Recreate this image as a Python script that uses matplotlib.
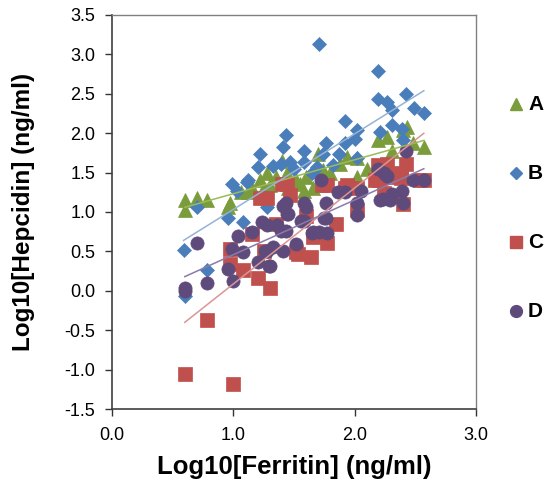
import numpy as np
import matplotlib
matplotlib.use("Agg")
import matplotlib.pyplot as plt

plt.rcParams['font.family'] = ['Liberation Sans', 'DejaVu Sans']

# Series A (green triangles)
a_x = [0.60, 0.60, 0.70, 0.78, 0.96, 0.97, 1.06, 1.12, 1.22, 1.28, 1.30, 1.40, 1.44, 1.52, 1.55,
       1.58, 1.66, 1.70, 1.74, 1.88, 1.94, 2.02, 2.02, 2.19, 2.27, 2.31, 2.40, 2.43, 2.48, 2.57,
       1.25, 1.45, 1.60, 1.80, 1.35, 1.15, 2.10]
a_y = [1.15, 1.02, 1.18, 1.15, 1.06, 1.11, 1.25, 1.25, 1.40, 1.49, 1.34, 1.65, 1.49, 1.40, 1.36,
       1.27, 1.31, 1.74, 1.53, 1.61, 1.70, 1.44, 1.68, 1.91, 1.95, 1.78, 2.04, 2.08, 1.87, 1.82,
       1.30, 1.30, 1.45, 1.50, 1.45, 1.30, 1.55]

# Series B (blue diamonds)
b_x = [0.59, 0.60, 0.70, 0.78, 0.96, 0.99, 1.03, 1.08, 1.11, 1.12, 1.20, 1.22, 1.28, 1.33, 1.39,
       1.41, 1.43, 1.47, 1.58, 1.58, 1.69, 1.71, 1.74, 1.76, 1.87, 1.92, 1.92, 2.00, 2.02, 2.02,
       2.19, 2.19, 2.21, 2.27, 2.31, 2.31, 2.39, 2.40, 2.42, 2.49, 2.57, 1.50, 1.65, 1.82]
b_y = [0.52, -0.06, 1.06, 0.26, 0.92, 1.36, 1.27, 0.87, 1.38, 1.40, 1.57, 1.73, 1.06, 1.59, 1.61,
       1.83, 1.98, 1.63, 1.78, 1.63, 1.57, 3.13, 1.74, 1.88, 1.73, 2.15, 1.88, 1.93, 2.04, 1.68,
       2.79, 2.44, 2.01, 2.39, 2.30, 2.10, 2.05, 1.91, 2.50, 2.32, 2.25, 1.55, 1.50, 1.60]

# Series C (red squares)
c_x = [0.60, 1.00, 0.78, 0.97, 0.97, 1.08, 1.15, 1.20, 1.22, 1.25, 1.28, 1.30, 1.40, 1.44, 1.47,
       1.52, 1.53, 1.64, 1.66, 1.73, 1.77, 1.77, 1.92, 1.94, 2.02, 2.02, 2.17, 2.19, 2.20, 2.24,
       2.24, 2.27, 2.31, 2.38, 2.38, 2.40, 2.42, 2.54, 2.57, 1.35, 1.60, 1.85]
c_y = [-1.05, -1.18, -0.37, 0.53, 0.34, 0.26, 0.72, 0.16, 1.18, 0.51, 1.18, 0.04, 1.36, 1.36, 1.21,
       0.49, 0.47, 0.43, 0.68, 1.34, 0.61, 1.34, 1.31, 1.34, 1.02, 1.30, 1.40, 1.60, 1.40, 1.24,
       1.56, 1.61, 1.44, 1.43, 1.49, 1.10, 1.61, 1.40, 1.40, 0.85, 0.95, 0.85]

# Series D (purple circles)
d_x = [0.60, 0.60, 0.70, 0.78, 0.96, 0.99, 1.00, 1.04, 1.08, 1.15, 1.20, 1.24, 1.26, 1.28, 1.28,
       1.29, 1.30, 1.33, 1.36, 1.39, 1.41, 1.41, 1.43, 1.43, 1.44, 1.45, 1.52, 1.56, 1.58, 1.58,
       1.60, 1.65, 1.66, 1.71, 1.72, 1.75, 1.76, 1.76, 1.77, 1.86, 1.92, 2.02, 2.02, 2.05, 2.19,
       2.21, 2.23, 2.24, 2.27, 2.29, 2.31, 2.39, 2.40, 2.42, 2.48, 2.57]
d_y = [0.00, 0.03, 0.61, 0.10, 0.28, 0.53, 0.12, 0.70, 0.49, 0.74, 0.36, 0.87, 0.51, 0.83, 0.51,
       0.32, 0.31, 0.55, 0.83, 0.76, 0.51, 1.08, 0.76, 1.11, 0.98, 0.98, 0.60, 0.89, 1.11, 0.89,
       1.06, 0.73, 0.74, 0.74, 1.41, 0.93, 1.12, 0.93, 0.73, 1.26, 1.25, 1.11, 0.96, 1.27, 1.54,
       1.15, 1.17, 1.49, 1.46, 1.15, 1.23, 1.27, 1.12, 1.78, 1.40, 1.40]

# Linear trendlines as shown in the chart
trend_x0 = [0.60, 0.59, 0.60, 0.60]
trend_x1 = [2.57, 2.57, 2.57, 2.57]
trend_slope = [0.431, 0.959, 1.218, 0.695]
trend_intercept = [0.801, 0.074, -1.131, -0.237]

labels = ['A', 'B', 'C', 'D']
colors = ['#7A9C3A', '#4A7EBB', '#C0504D', '#5F4A7C']
line_colors = ['#9BBB59', '#95B3D7', '#D99694', '#8C7AAA']
markers = ['^', 'D', 's', 'o']
msizes = [10, 7.5, 9.5, 9.5]

fig = plt.figure(figsize=(5.5, 4.86), dpi=100)
ax = fig.add_axes([112/550, 1 - 409/486, (476-112)/550, (409-15)/486])

series = [(a_x, a_y), (b_x, b_y), (c_x, c_y), (d_x, d_y)]
for (xs, ys), col, mk, ms in zip(series, colors, markers, msizes):
    ax.plot(xs, ys, linestyle='none', marker=mk, markersize=ms, color=col,
            markeredgecolor=col, markeredgewidth=0.5, zorder=2)

for x0, x1, k, b0, lc in zip(trend_x0, trend_x1, trend_slope, trend_intercept, line_colors):
    xx = np.array([x0, x1])
    ax.plot(xx, k * xx + b0, color=lc, linewidth=1.1, zorder=3)

ax.set_xlim(0, 3.0)
ax.set_ylim(-1.5, 3.5)
ax.set_xticks(np.arange(0, 3.01, 1.0))
ax.set_yticks(np.arange(-1.5, 3.51, 0.5))
ax.xaxis.set_major_formatter(matplotlib.ticker.FormatStrFormatter('%.1f'))
ax.yaxis.set_major_formatter(matplotlib.ticker.FormatStrFormatter('%.1f'))
ax.tick_params(direction='out', length=5, width=1, labelsize=13, colors='#333333',
               labelcolor='black')
ax.tick_params(axis='x', pad=8)
ax.tick_params(axis='y', pad=7)
for side in ['left', 'bottom']:
    ax.spines[side].set_color('#404040')
    ax.spines[side].set_linewidth(1.2)
for side in ['top', 'right']:
    ax.spines[side].set_color('#808080')
    ax.spines[side].set_linewidth(1.0)

ax.set_xlabel('Log10[Ferritin] (ng/ml)', fontsize=18.5, fontweight='bold', labelpad=8)
ax.set_ylabel('Log10[Hepcidin] (ng/ml)', fontsize=17.5, fontweight='bold', labelpad=21)

# Legend drawn in figure pixel coordinates
lax = fig.add_axes([0, 0, 1, 1], facecolor='none')
lax.set_xlim(0, 550)
lax.set_ylim(486, 0)
lax.axis('off')
leg_y = [104, 173, 242, 311]
leg_ms = [8.5, 6.5, 8.5, 8.5]
for yy, lab, col, mk, ms in zip(leg_y, labels, colors, markers, leg_ms):
    lax.plot([516], [yy], linestyle='none', marker=mk, markersize=ms, color=col)
    lax.text(528, yy, lab, fontsize=15, fontweight='bold', va='center', ha='left')

fig.savefig('out.png', dpi=100)
